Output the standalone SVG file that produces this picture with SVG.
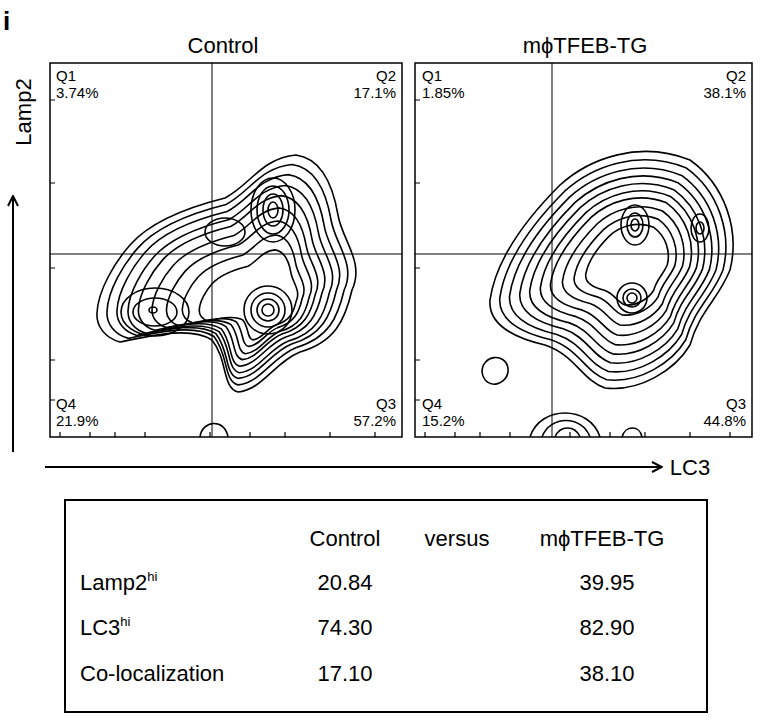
<svg xmlns="http://www.w3.org/2000/svg" xmlns:xlink="http://www.w3.org/1999/xlink" width="768" height="723" viewBox="0 0 768 723">
<style>
text{font-family:"Liberation Sans",Arial,sans-serif;fill:#000}
.q{font-size:15px}
.t{font-size:22px}
.c{fill:none;stroke:#000;stroke-width:1.6}
</style>
<defs>
<marker id="ah" viewBox="0 0 12 12" refX="11" refY="6" markerWidth="12" markerHeight="12" markerUnits="userSpaceOnUse" orient="auto"><path d="M1,1 L11,6 L1,11" fill="none" stroke="#000" stroke-width="2"/></marker>
<path id="c1" vector-effect="non-scaling-stroke" fill="none" stroke="#000" stroke-width="1.6" d="M97,313 C98,290 115,262 130,245 C150,222 185,208 225,198 C250,185 262,158 296,155 C318,158 332,180 338,215 C342,240 365,262 352,290 C345,320 335,342 300,352 C275,362 262,390 238,392 C222,388 228,360 212,340 C190,326 150,336 120,342 C105,338 96,326 97,313 Z"/>
<path id="c2" vector-effect="non-scaling-stroke" fill="none" stroke="#000" stroke-width="1.6" d="M490,300 C495,265 520,225 560,185 C590,158 640,140 690,160 C725,185 740,230 730,270 C718,300 700,310 690,345 C675,370 640,392 605,388 C582,380 575,355 545,345 C515,338 488,325 490,300 Z"/>
</defs>
<text x="3" y="30" style="font-size:26px;font-weight:bold">i</text>
<text x="223" y="53" class="t" text-anchor="middle">Control</text>
<text x="585" y="53" class="t" text-anchor="middle">mϕTFEB-TG</text>
<text transform="translate(31,112) rotate(-90)" class="t" text-anchor="middle">Lamp2</text>
<line x1="13" y1="452" x2="13" y2="196" stroke="#000" stroke-width="2" marker-end="url(#ah)"/>
<line x1="45" y1="467" x2="662" y2="467" stroke="#000" stroke-width="2" marker-end="url(#ah)"/>
<text x="690" y="475" class="t" text-anchor="middle">LC3</text>
<g id="plot1">
<rect x="50" y="63" width="352" height="374" fill="#fff" stroke="#000" stroke-width="1.5"/>
<line x1="212" y1="63" x2="212" y2="437" stroke="#000" stroke-width="1"/>
<line x1="50" y1="254" x2="402" y2="254" stroke="#000" stroke-width="1"/>
<g class="c">
<use xlink:href="#c1"/>
<use xlink:href="#c1" transform="translate(240,290) scale(0.93) translate(-240,-290)"/>
<use xlink:href="#c1" transform="translate(240,295) scale(0.86) translate(-240,-295)"/>
<use xlink:href="#c1" transform="translate(245,300) scale(0.79) translate(-245,-300)"/>
<use xlink:href="#c1" transform="translate(245,300) scale(0.72) translate(-245,-300)"/>
<use xlink:href="#c1" transform="translate(250,302) scale(0.64) translate(-250,-302)"/>
<use xlink:href="#c1" transform="translate(255,305) scale(0.56) translate(-255,-305)"/>
<use xlink:href="#c1" transform="translate(258,306) scale(0.47) translate(-258,-306)"/>
<use xlink:href="#c1" transform="translate(262,308) scale(0.38) translate(-262,-308)"/>
<ellipse cx="268" cy="310" rx="24" ry="24"/><ellipse cx="268" cy="310" rx="17" ry="17"/><ellipse cx="268" cy="310" rx="11" ry="11"/><ellipse cx="268" cy="310" rx="6" ry="6"/>
<ellipse cx="273" cy="210" rx="22" ry="32"/><ellipse cx="273" cy="210" rx="16" ry="24"/><ellipse cx="273" cy="210" rx="10" ry="16"/><ellipse cx="273" cy="210" rx="5" ry="8"/>
<ellipse cx="155" cy="312" rx="34" ry="24"/><ellipse cx="155" cy="312" rx="22" ry="14"/><ellipse cx="153" cy="310" rx="4" ry="3"/>
<ellipse cx="225" cy="232" rx="20" ry="14"/>
<path d="M200,437 C202,420 225,418 228,437"/>
</g>
<text x="56" y="81" class="q">Q1</text><text x="56" y="98" class="q">3.74%</text>
<text x="396" y="81" class="q" text-anchor="end">Q2</text><text x="396" y="98" class="q" text-anchor="end">17.1%</text>
<text x="56" y="409" class="q">Q4</text><text x="56" y="426" class="q">21.9%</text>
<text x="396" y="409" class="q" text-anchor="end">Q3</text><text x="396" y="426" class="q" text-anchor="end">57.2%</text>
<path d="M50,100h5M50,183h5M50,268h5M50,360h5M50,400h5M60,437v-5M90,437v-5M115,437v-5M145,437v-5M210,437v-5M250,437v-5M285,437v-5M330,437v-5M375,437v-5" stroke="#000" stroke-width="1.2"/>
</g>
<g id="plot2">
<rect x="415" y="63" width="337" height="374" fill="#fff" stroke="#000" stroke-width="1.5"/>
<line x1="552" y1="63" x2="552" y2="437" stroke="#000" stroke-width="1"/>
<line x1="415" y1="254" x2="752" y2="254" stroke="#000" stroke-width="1"/>
<g class="c">
<use xlink:href="#c2"/>
<use xlink:href="#c2" transform="translate(630,270) scale(0.93) translate(-630,-270)"/>
<use xlink:href="#c2" transform="translate(630,270) scale(0.86) translate(-630,-270)"/>
<use xlink:href="#c2" transform="translate(632,268) scale(0.79) translate(-632,-268)"/>
<use xlink:href="#c2" transform="translate(632,266) scale(0.72) translate(-632,-266)"/>
<use xlink:href="#c2" transform="translate(634,264) scale(0.65) translate(-634,-264)"/>
<use xlink:href="#c2" transform="translate(634,262) scale(0.58) translate(-634,-262)"/>
<use xlink:href="#c2" transform="translate(635,262) scale(0.50) translate(-635,-262)"/>
<use xlink:href="#c2" transform="translate(635,262) scale(0.42) translate(-635,-262)"/>
<use xlink:href="#c2" transform="translate(635,262) scale(0.34) translate(-635,-262)"/>
<ellipse cx="635" cy="225" rx="14" ry="20"/><ellipse cx="635" cy="225" rx="8" ry="12"/><ellipse cx="635" cy="225" rx="4" ry="6"/>
<ellipse cx="632" cy="298" rx="15" ry="15"/><ellipse cx="632" cy="298" rx="9" ry="9"/><ellipse cx="632" cy="298" rx="5" ry="5"/>
<ellipse cx="700" cy="228" rx="9" ry="14"/><ellipse cx="700" cy="228" rx="4" ry="6"/>
<path d="M482,372 C482,355 505,352 508,368 C510,385 485,392 482,372 Z"/>
<path d="M530,437 C540,405 590,405 600,437"/>
<path d="M542,437 C550,415 582,415 590,437"/>
<path d="M555,437 C560,425 575,425 580,437"/>
<path d="M622,437 C625,425 640,425 642,437"/>
</g>
<text x="422" y="81" class="q">Q1</text><text x="422" y="98" class="q">1.85%</text>
<text x="746" y="81" class="q" text-anchor="end">Q2</text><text x="746" y="98" class="q" text-anchor="end">38.1%</text>
<text x="422" y="409" class="q">Q4</text><text x="422" y="426" class="q">15.2%</text>
<text x="746" y="409" class="q" text-anchor="end">Q3</text><text x="746" y="426" class="q" text-anchor="end">44.8%</text>
<path d="M415,100h5M415,183h5M415,268h5M415,360h5M415,400h5M425,437v-5M455,437v-5M480,437v-5M510,437v-5M570,437v-5M610,437v-5M645,437v-5M690,437v-5M730,437v-5" stroke="#000" stroke-width="1.2"/>
</g>
<g id="table">
<rect x="65" y="500" width="642" height="212" fill="#fff" stroke="#000" stroke-width="2"/>
<text x="345" y="546" class="t" text-anchor="middle">Control</text>
<text x="457" y="546" class="t" text-anchor="middle">versus</text>
<text x="602" y="546" class="t" text-anchor="middle">mϕTFEB-TG</text>
<text x="80" y="590" class="t">Lamp2<tspan dy="-9" style="font-size:13px">hi</tspan></text>
<text x="80" y="635" class="t">LC3<tspan dy="-9" style="font-size:13px">hi</tspan></text>
<text x="80" y="681" class="t">Co-localization</text>
<text x="345" y="590" class="t" text-anchor="middle">20.84</text>
<text x="345" y="635" class="t" text-anchor="middle">74.30</text>
<text x="345" y="681" class="t" text-anchor="middle">17.10</text>
<text x="607" y="590" class="t" text-anchor="middle">39.95</text>
<text x="607" y="635" class="t" text-anchor="middle">82.90</text>
<text x="607" y="681" class="t" text-anchor="middle">38.10</text>
</g>
</svg>
